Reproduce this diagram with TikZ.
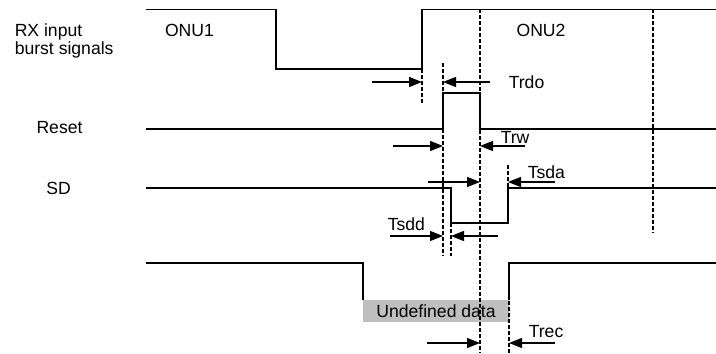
\documentclass[tikz,border=0pt]{standalone}
\usepackage{fontspec}
\setmainfont{Liberation Sans}
\usetikzlibrary{arrows.meta}
\begin{document}
\begin{tikzpicture}[x=0.5pt, y=-0.5pt, line width=0.75pt,
    every node/.style={font=\fontsize{8.8}{9}\selectfont, inner sep=0pt},
    guide/.style={line width=0.55pt, dash pattern=on 2pt off 1pt},
    meas/.style={-{Triangle[length=6.5pt, width=5pt]}, line width=0.6pt}]
  \useasboundingbox (0,0) rectangle (716,353);
  \def\rxrise{422}
  \def\rston{443}
  \def\rstoff{480}
  \def\sdoff{451}
  \def\sdon{508}
  % signal names
  \node[anchor=west, align=left] (rx) at (14,41) {RX input\\burst signals};
  \node (reset) at (59.5,128) {Reset};
  \node (sd) at (58.5,188) {SD};
  \node (onu1) at (189.5,30) {ONU1};
  \node (onu2) at (541,30) {ONU2};
  % waveforms
  \draw (146,9.5) -- (276,9.5) -- (276,69) -- (\rxrise,69) -- (\rxrise,9.5) -- (716,9.5);
  \draw (146,129) -- (\rston,129) -- (\rston,93) -- (\rstoff,93) -- (\rstoff,129) -- (716,129);
  \draw (146,188) -- (\sdoff,188) -- (\sdoff,223) -- (\sdon,223) -- (\sdon,188) -- (716,188);
  \draw (146,263) -- (363,263) -- (363,300);
  \draw (509,300) -- (509,263) -- (716,263);
  \fill[gray!50] (363,300) rectangle (509,322);
  \node (undef) at (436,311) {Undefined data};
  % timing guides
  \draw[guide] (\rxrise,63) -- (\rxrise,104);
  \draw[guide] (\rston,63) -- (\rston,256);
  \draw[guide] (\sdoff,223) -- (\sdoff,256);
  \draw[guide] (\rstoff,9.5) -- (\rstoff,353);
  \draw[guide] (\sdon,165) -- (\sdon,188);
  \draw[guide] (509,295) -- (509,353);
  \draw[guide] (653,9.5) -- (653,233);
  % intervals
  \draw[meas] (372,82) -- (\rxrise,82);
  \draw[meas] (490,82) -- (\rston,82);
  \node[anchor=west] (trdo) at (508,82) {Trdo};
  \draw[meas] (393,146) -- (\rston,146);
  \draw[meas] (525,146) -- (\rstoff,146);
  \node[anchor=west] (trw) at (500,137) {Trw};
  \draw[meas] (428,182) -- (\rstoff,182);
  \draw[meas] (555,182) -- (\sdon,182);
  \node[anchor=west] (tsda) at (527,172) {Tsda};
  \draw[meas] (390,236) -- (\rston,236);
  \draw[meas] (498,236) -- (\sdoff,236);
  \node[anchor=west] (tsdd) at (387,224) {Tsdd};
  \draw[meas] (427,343) -- (\rstoff,343);
  \draw[meas] (555,343) -- (509,343);
  \node[anchor=west] (trec) at (528,332) {Trec};
\end{tikzpicture}
\end{document}
